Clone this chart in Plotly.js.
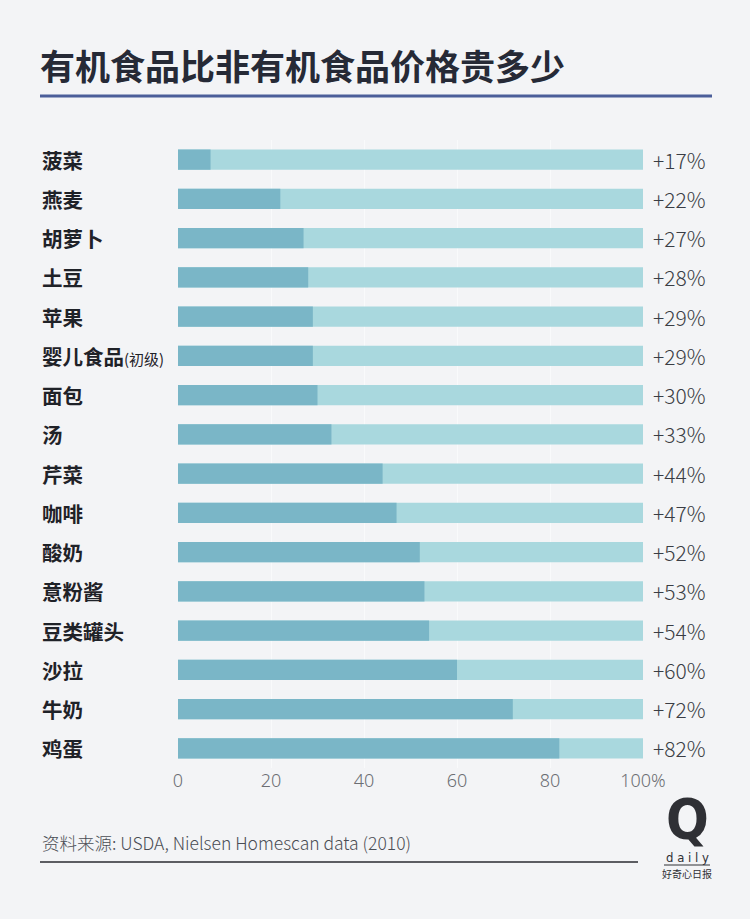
<!DOCTYPE html>
<html>
<head>
<meta charset="utf-8">
<script src="https://cdn.plot.ly/plotly-3.0.1.min.js"></script>
<style>html,body{margin:0;padding:0;background:#f3f4f6;}#chart{width:750px;height:919px;}</style>
</head>
<body>
<div id="chart"></div>
<script>
const categories = ['菠菜','燕麦','胡萝卜','土豆','苹果','婴儿食品(初级)','面包','汤','芹菜','咖啡','酸奶','意粉酱','豆类罐头','沙拉','牛奶','鸡蛋'];
const barValues = [7,22,27,28,29,29,30,33,44,47,52,53,54,60,72,82];
const pctLabels = ['+17%','+22%','+27%','+28%','+29%','+29%','+30%','+33%','+44%','+47%','+52%','+53%','+54%','+60%','+72%','+82%'];
const fullValues = categories.map(() => 100);
const tickVals = [0,20,40,60,80,100];
const tickText = ['0','20','40','60','80','100%'];

const W = 750, H = 919;
const mL = 178, mR = 107, mT = 140, mB = 151;
const plotW = W - mL - mR;
const px = v => (v - mL) / plotW;            // page x -> paper x
const py = v => 1 - (v - mT) / (H - mT - mB); // page y -> paper y

const catFont = "'Noto Sans CJK SC', 'Noto Sans', sans-serif";

const traces = [
  {type:'bar', orientation:'h', y:categories, x:fullValues, marker:{color:'#a9d8de'}, width:0.51, hoverinfo:'skip'},
  {type:'bar', orientation:'h', y:categories, x:barValues, marker:{color:'#7ab6c7'}, width:0.51, hoverinfo:'skip'}
];

const annotations = [];
categories.forEach((c, i) => {
  let t;
  const k = c.indexOf('(');
  if (k >= 0) {
    t = '<b>' + c.slice(0,k) + '</b><span style="font-size:15px">' + c.slice(k) + '</span>';
  } else {
    t = '<b>' + c + '</b>';
  }
  annotations.push({xref:'paper', yref:'y', x:px(40), y:c, xanchor:'left', yanchor:'middle', text:t, showarrow:false,
    font:{family:catFont, size:20.5, color:'#1f2228'}});
  annotations.push({xref:'paper', yref:'y', x:px(651), y:c, xanchor:'left', yanchor:'middle', text:pctLabels[i], showarrow:false,
    font:{family:"'Noto Sans CJK SC', 'Noto Sans', sans-serif", size:21, weight:300, color:'#3a3d44'}});
});

annotations.push({xref:'paper', yref:'paper', x:px(40), y:py(842), xanchor:'left', yanchor:'middle',
  text:'资料来源: USDA, Nielsen Homescan data (2010)', showarrow:false,
  font:{family:"'Noto Sans CJK SC', sans-serif", size:17.5, weight:300, color:'#4a4d54'}});
annotations.push({xref:'paper', yref:'paper', x:px(687), y:py(818), xanchor:'center', yanchor:'middle',
  text:'<b>Q</b>', showarrow:false,
  font:{family:"'Liberation Sans Narrow', 'DejaVu Sans Condensed', sans-serif", size:56, color:'#2f3035'}});
annotations.push({xref:'paper', yref:'paper', x:px(687), y:py(857), xanchor:'center', yanchor:'middle',
  text:'d a i l y', showarrow:false,
  font:{family:"'Liberation Sans Narrow', 'DejaVu Sans Condensed', sans-serif", size:13, color:'#2f3035'}});
annotations.push({xref:'paper', yref:'paper', x:px(687), y:py(873), xanchor:'center', yanchor:'middle',
  text:'好奇心日报', showarrow:false,
  font:{family:"'Noto Sans CJK SC', sans-serif", size:10, color:'#2f3035'}});

const shapes = [
  {type:'line', xref:'paper', yref:'paper', x0:px(40), x1:px(712), y0:py(96), y1:py(96), line:{color:'#4b5e99', width:3}},
  {type:'line', xref:'paper', yref:'paper', x0:px(40), x1:px(638), y0:py(862), y1:py(862), line:{color:'#2a2b30', width:1.5}},
  {type:'line', xref:'paper', yref:'paper', x0:px(664), x1:px(710), y0:py(865), y1:py(865), line:{color:'#2f3035', width:1}}
];

const layout = {
  width:W, height:H,
  margin:{l:mL, r:mR, t:mT, b:mB},
  paper_bgcolor:'#f3f4f6', plot_bgcolor:'#f3f4f6',
  barmode:'overlay',
  showlegend:false,
  title:{text:'<b>有机食品比非有机食品价格贵多少</b>', x:40/W, xanchor:'left', y:1-68/H, yanchor:'middle',
    font:{family:catFont, size:35, color:'#262a36'}},
  xaxis:{range:[0,100], tickvals:tickVals, ticktext:tickText, showgrid:true, gridcolor:'#f9fafb', gridwidth:1,
    zeroline:false, showline:false, ticks:'', ticklen:0, fixedrange:true,
    tickfont:{family:"'Noto Sans', 'Open Sans', sans-serif", size:18, weight:300, color:'#6c6e73'}},
  yaxis:{autorange:'reversed', showticklabels:false, showgrid:false, zeroline:false, showline:false, ticks:'', fixedrange:true},
  annotations:annotations,
  shapes:shapes
};

Plotly.newPlot('chart', traces, layout, {displayModeBar:false, staticPlot:true});
</script>
</body>
</html>
